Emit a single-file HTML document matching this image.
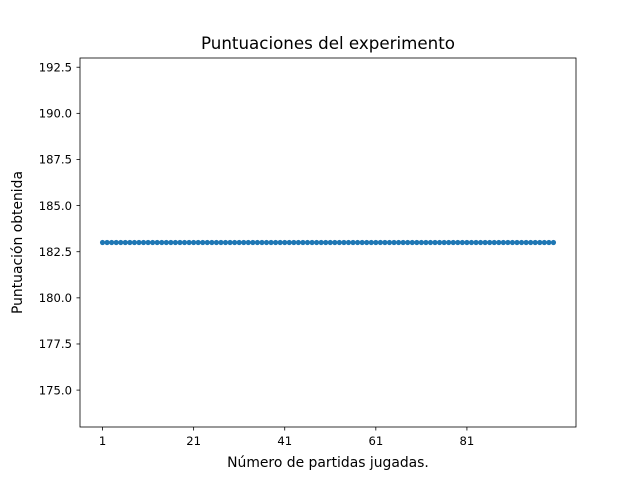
<!DOCTYPE html>
<html><head><meta charset="utf-8"><style>
body{margin:0;background:#fff;}
svg text{font-family:"DejaVu Sans","Liberation Sans",sans-serif;}
</style></head><body>
<svg id="chart" width="640" height="480" xmlns="http://www.w3.org/2000/svg">
<rect width="640" height="480" fill="#fff"/>
<text x="328" y="49" font-size="16.7" text-anchor="middle">Puntuaciones del experimento</text>
<g id="plot"></g>
<rect x="80" y="58" width="496" height="369" fill="none" stroke="#000" stroke-width="0.8"/>
<text x="328" y="467" font-size="13.9" text-anchor="middle">Número de partidas jugadas.</text>
<text transform="translate(22,242.5) rotate(-90)" font-size="13.9" text-anchor="middle">Puntuación obtenida</text>
</svg>
<script>
const games = Array.from({length:100},(_,i)=>i+1);
const scores = [183,183,183,183,183,183,183,183,183,183,183,183,183,183,183,183,183,183,183,183,183,183,183,183,183,183,183,183,183,183,183,183,183,183,183,183,183,183,183,183,183,183,183,183,183,183,183,183,183,183,183,183,183,183,183,183,183,183,183,183,183,183,183,183,183,183,183,183,183,183,183,183,183,183,183,183,183,183,183,183,183,183,183,183,183,183,183,183,183,183,183,183,183,183,183,183,183,183,183,183];
const xTicks = [1,21,41,61,81];
const yTicks = [175.0,177.5,180.0,182.5,185.0,187.5,190.0,192.5];

const L=80,R=576,T=58,B=427;
const xmin=-3.95,xmax=104.95;
const ymin=173,ymax=193;
const sx=v=>L+(v-xmin)/(xmax-xmin)*(R-L);
const sy=v=>B-(v-ymin)/(ymax-ymin)*(B-T);
const NS="http://www.w3.org/2000/svg";
const g=document.getElementById('plot');
function mk(tag,attrs){const e=document.createElementNS(NS,tag);for(const k in attrs)e.setAttribute(k,attrs[k]);g.appendChild(e);return e;}
xTicks.forEach(t=>{
  const x=sx(t);
  const l=mk('line',{x1:x,x2:x,y1:B,y2:B+3.5,stroke:'#000','stroke-width':0.8});
  
  
  const tx=mk('text',{x:x,y:B+18,'font-size':11.6,'text-anchor':'middle'});
  tx.textContent=t;
  
  
});
yTicks.forEach(t=>{
  const y=sy(t);
  const l=mk('line',{x1:L-3.5,x2:L,y1:y,y2:y,stroke:'#000','stroke-width':0.8});
  
  
  const tx=mk('text',{x:L-8,y:y+4.2,'font-size':11.6,'text-anchor':'end'});
  tx.textContent=t.toFixed(1);
  
  
});
games.forEach((v,i)=>{
  const c=mk('circle',{cx:sx(v),cy:sy(scores[i]),r:2.6,fill:'#1f77b4'});
  
  
});
</script>
</body></html>
